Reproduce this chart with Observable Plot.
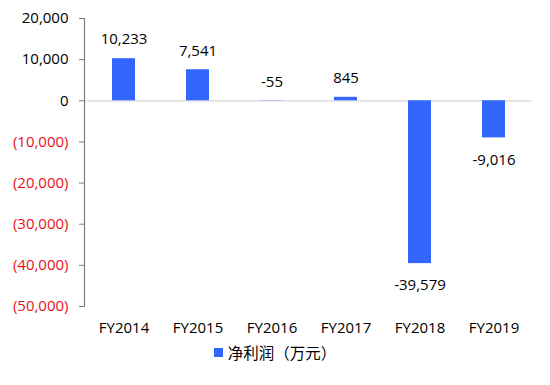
<!DOCTYPE html>
<html>
<head>
<meta charset="utf-8">
<script src="https://cdn.jsdelivr.net/npm/d3@7"></script>
<script src="https://cdn.jsdelivr.net/npm/@observablehq/plot@0.6"></script>
<style>
  html, body { margin: 0; padding: 0; background: #fff; }
  body { width: 550px; height: 385px; overflow: hidden; font-family: "Open Sans", "Noto Sans CJK SC", sans-serif; }
  #legend { display: flex; justify-content: center; align-items: center; font-size: 15.5px; color: #000; margin-top: 1px; font-family: "Open Sans", "Noto Sans CJK SC", sans-serif; }
  #legend .sw { width: 9px; height: 9px; margin-right: 5px; }
</style>
</head>
<body>
<div id="chart"></div>
<div id="legend"></div>
<script>
const categories = ["FY2014", "FY2015", "FY2016", "FY2017", "FY2018", "FY2019"];
const netProfit = [10233, 7541, -55, 845, -39579, -9016];
const seriesName = "净利润（万元）";
const yTicks = [20000, 10000, 0, -10000, -20000, -30000, -40000, -50000];

const barColor = "#3366ff";
const negColor = "#e8101e";
const fontFamily = '"Open Sans", "Noto Sans CJK SC", sans-serif';

const data = categories.map((c, i) => ({category: c, value: netProfit[i]}));
const fmtNum = d3.format(",");
const tickFmt = v => v < 0 ? "(" + fmtNum(-v) + ")" : fmtNum(v);
const labelFmt = v => v < 0 ? "-" + fmtNum(-v) : fmtNum(v);

const above = data.filter(d => d.value > -1000);
const below = data.filter(d => d.value <= -1000);

const plot = Plot.plot({
  width: 550,
  height: 340,
  marginLeft: 84,
  marginRight: 18,
  marginTop: 18,
  marginBottom: 34,
  style: {fontFamily, fontSize: "15px", color: "#000", background: "#fff"},
  x: {domain: categories, paddingInner: 0.69, paddingOuter: 0.345, label: null},
  y: {domain: [-50000, 20000], label: null},
  marks: [
    Plot.ruleY([0], {stroke: "#d9d9d9", strokeWidth: 1.2}),
    Plot.barY(data, {x: "category", y: "value", fill: barColor}),
    Plot.frame({anchor: "left", stroke: "#7f7f7f", strokeWidth: 1.2}),
    Plot.axisY(yTicks.filter(v => v >= 0), {tickSize: 5, tickPadding: 11, tickFormat: tickFmt, stroke: "#7f7f7f", fill: "#000", label: null}),
    Plot.axisY(yTicks.filter(v => v < 0), {tickSize: 5, tickPadding: 11, tickFormat: tickFmt, stroke: "#7f7f7f", fill: negColor, label: null}),
    Plot.axisX({tickSize: 0, tickPadding: 16, fill: "#000", label: null}),
    Plot.text(above, {x: "category", y: d => Math.max(d.value, 0), text: d => labelFmt(d.value), dy: -19, fill: "#000", fontSize: 15}),
    Plot.text(below, {x: "category", y: "value", text: d => labelFmt(d.value), dy: 22, fill: "#000", fontSize: 15})
  ]
});
document.getElementById("chart").appendChild(plot);

const legend = document.getElementById("legend");
const sw = document.createElement("span");
sw.className = "sw";
sw.style.background = barColor;
const lab = document.createElement("span");
lab.textContent = seriesName;
legend.appendChild(sw);
legend.appendChild(lab);
</script>
</body>
</html>
